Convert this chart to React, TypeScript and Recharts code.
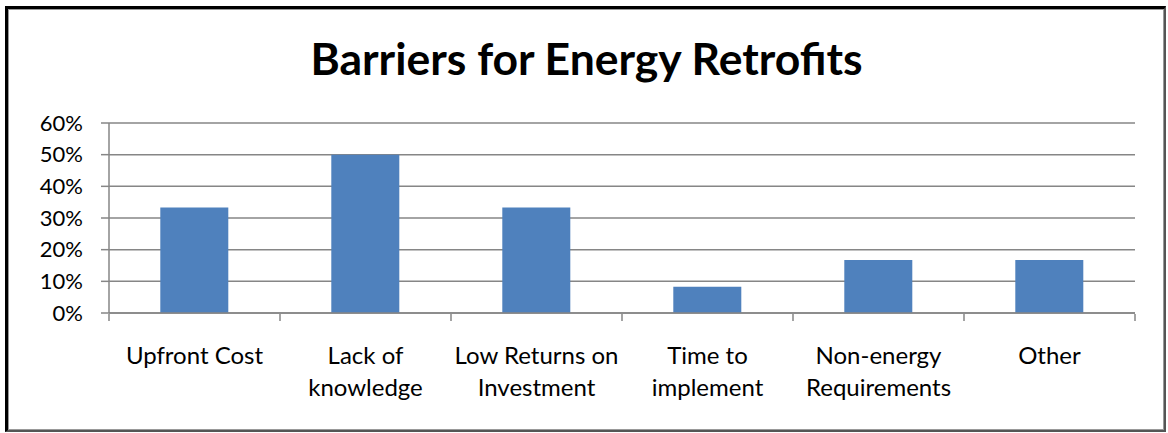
import React from 'react';
import { BarChart, Bar, XAxis, YAxis, CartesianGrid } from 'recharts';

const categories = [
  'Upfront Cost',
  'Lack of knowledge',
  'Low Returns on Investment',
  'Time to implement',
  'Non-energy Requirements',
  'Other',
];
const shares = [0.333, 0.5, 0.333, 0.083, 0.167, 0.167];
const tickLabels = [
  ['Upfront Cost'],
  ['Lack of', 'knowledge'],
  ['Low Returns on', 'Investment'],
  ['Time to', 'implement'],
  ['Non-energy', 'Requirements'],
  ['Other'],
];
const yTicks = [0, 0.1, 0.2, 0.3, 0.4, 0.5, 0.6];

const data = categories.map((name, i) => ({ name, share: shares[i] }));

const FONT = 'Lato, "Open Sans", sans-serif';
const AXIS = '#868686';
const PLOT_LEFT = 109;
const PLOT_RIGHT = 1135;
const BAND = (PLOT_RIGHT - PLOT_LEFT) / categories.length;

const CategoryTick = (props: any) => {
  const { x, y, index } = props;
  const lines = tickLabels[index] || [];
  const left = x - BAND / 2;
  const right = x + BAND / 2;
  return (
    <g>
      <line x1={left} x2={left} y1={y - 7} y2={y} stroke={AXIS} strokeWidth={1.5} />
      {index === categories.length - 1 && (
        <line x1={right} x2={right} y1={y - 7} y2={y} stroke={AXIS} strokeWidth={1.5} />
      )}
      <text x={x} y={y + 43} textAnchor="middle" fontSize={24} fill="#000" fontFamily={FONT}>
        {lines.map((l, i) => (
          <tspan key={i} x={x} dy={i === 0 ? 0 : 32}>
            {l}
          </tspan>
        ))}
      </text>
    </g>
  );
};

export default function App() {
  return (
    <div style={{ position: 'absolute', left: 0, top: 0, width: 1168, height: 433, background: '#fff' }}>
      <div
        style={{
          position: 'absolute',
          left: 5,
          top: 6,
          width: 1161,
          height: 426,
          boxSizing: 'border-box',
          borderTop: '3px solid #000',
          borderLeft: '3px solid #000',
          borderRight: '2px solid #555',
          borderBottom: '2px solid #555',
        }}
      >
        <div style={{ position: 'absolute', inset: 0, border: '1px solid #999' }} />
      </div>
      <div
        style={{
          position: 'absolute',
          left: 0,
          top: 33,
          width: 1173,
          textAlign: 'center',
          fontFamily: FONT,
          fontWeight: 700,
          fontSize: 44.5,
          color: '#000',
          lineHeight: '50px',
        }}
      >
        Barriers for Energy Retrofits
      </div>
      <div style={{ position: 'absolute', left: 0, top: 0 }}>
        <BarChart
          width={1168}
          height={433}
          data={data}
          margin={{ top: 123, right: 1168 - PLOT_RIGHT, bottom: 0, left: 0 }}
          barCategoryGap="30%"
        >
          <CartesianGrid vertical={false} stroke={AXIS} strokeWidth={1.5} />
          <XAxis
            dataKey="name"
            height={120}
            axisLine={{ stroke: AXIS, strokeWidth: 1.5 }}
            tickLine={false}
            interval={0}
            tick={<CategoryTick />}
          />
          <YAxis
            width={PLOT_LEFT}
            domain={[0, 0.6]}
            ticks={yTicks}
            tickFormatter={(v: number) => `${Math.round(v * 100)}%`}
            axisLine={{ stroke: AXIS, strokeWidth: 1.5 }}
            tickLine={{ stroke: AXIS, strokeWidth: 1.5 }}
            tickSize={8}
            tickMargin={18}
            tick={{ fontSize: 22, fill: '#000', fontFamily: FONT }}
          />
          <Bar dataKey="share" fill="#4F81BD" isAnimationActive={false} />
        </BarChart>
      </div>
    </div>
  );
}
